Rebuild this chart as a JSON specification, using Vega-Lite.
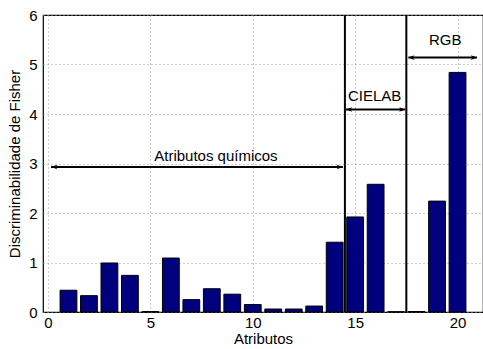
{
  "$schema": "https://vega.github.io/schema/vega-lite/v6.json",
  "autosize": "none",
  "width": 440,
  "height": 297,
  "padding": {"left": 43, "top": 15, "right": 0, "bottom": 37},
  "background": "white",
  "config": {
    "view": {"stroke": "black", "strokeWidth": 1.2},
    "font": "Liberation Sans",
    "axis": {
      "labelFont": "Liberation Sans",
      "titleFont": "Liberation Sans",
      "labelFontSize": 15,
      "titleFontSize": 15,
      "titleFontWeight": "normal",
      "labelColor": "black",
      "titleColor": "black",
      "domain": false,
      "ticks": false,
      "grid": true,
      "gridColor": "#999999",
      "gridDash": [1, 3],
      "gridWidth": 1
    }
  },
  "datasets": {
    "bars": [
      {"attr": 1, "value": 0.44},
      {"attr": 2, "value": 0.33},
      {"attr": 3, "value": 0.99},
      {"attr": 4, "value": 0.74},
      {"attr": 5, "value": 0.01},
      {"attr": 6, "value": 1.09},
      {"attr": 7, "value": 0.25},
      {"attr": 8, "value": 0.47},
      {"attr": 9, "value": 0.36},
      {"attr": 10, "value": 0.15},
      {"attr": 11, "value": 0.06},
      {"attr": 12, "value": 0.06},
      {"attr": 13, "value": 0.12},
      {"attr": 14, "value": 1.41},
      {"attr": 15, "value": 1.92},
      {"attr": 16, "value": 2.58},
      {"attr": 17, "value": 0.005},
      {"attr": 18, "value": 0.01},
      {"attr": 19, "value": 2.24},
      {"attr": 20, "value": 4.84}
    ],
    "dividers": [{"x": 14.5}, {"x": 17.5}],
    "arrows": [
      {"label": "Atributos químicos", "x1": 0.15, "x2": 14.4, "y": 2.93, "lx": 8.2, "ly": 3.15},
      {"label": "CIELAB", "x1": 14.55, "x2": 17.45, "y": 4.09, "lx": 15.95, "ly": 4.37},
      {"label": "RGB", "x1": 17.6, "x2": 20.95, "y": 5.14, "lx": 19.4, "ly": 5.5}
    ]
  },
  "layer": [
    {
      "data": {"name": "bars"},
      "mark": {"type": "bar", "size": 16.8, "color": "#00007F", "stroke": "black", "strokeWidth": 1},
      "encoding": {
        "x": {
          "field": "attr", "type": "quantitative",
          "scale": {"domain": [0, 21], "nice": false, "zero": false},
          "axis": {"values": [0, 5, 10, 15, 20], "title": "Atributos", "labelPadding": 3, "titlePadding": 1}
        },
        "y": {
          "field": "value", "type": "quantitative",
          "scale": {"domain": [0, 6], "nice": false},
          "axis": {"values": [0, 1, 2, 3, 4, 5, 6], "title": "Discriminabilidade de Fisher", "labelPadding": 6, "titlePadding": 6}
        }
      }
    },
    {
      "data": {"name": "dividers"},
      "mark": {"type": "rule", "color": "black", "strokeWidth": 2},
      "encoding": {"x": {"field": "x", "type": "quantitative"}}
    },
    {
      "data": {"name": "arrows"},
      "mark": {"type": "rule", "color": "black", "strokeWidth": 2},
      "encoding": {
        "x": {"field": "x1", "type": "quantitative"},
        "x2": {"field": "x2"},
        "y": {"field": "y", "type": "quantitative"}
      }
    },
    {
      "data": {"name": "arrows"},
      "mark": {"type": "point", "filled": true, "color": "black", "opacity": 1, "size": 150, "shape": "M0,0L1,-0.38L0.75,0L1,0.38Z"},
      "encoding": {
        "x": {"field": "x1", "type": "quantitative"},
        "y": {"field": "y", "type": "quantitative"}
      }
    },
    {
      "data": {"name": "arrows"},
      "mark": {"type": "point", "filled": true, "color": "black", "opacity": 1, "size": 150, "shape": "M0,0L-1,-0.38L-0.75,0L-1,0.38Z"},
      "encoding": {
        "x": {"field": "x2", "type": "quantitative"},
        "y": {"field": "y", "type": "quantitative"}
      }
    },
    {
      "data": {"name": "arrows"},
      "mark": {"type": "text", "font": "Liberation Sans", "fontSize": 15, "color": "black", "baseline": "middle", "align": "center"},
      "encoding": {
        "x": {"field": "lx", "type": "quantitative"},
        "y": {"field": "ly", "type": "quantitative"},
        "text": {"field": "label"}
      }
    }
  ]
}
